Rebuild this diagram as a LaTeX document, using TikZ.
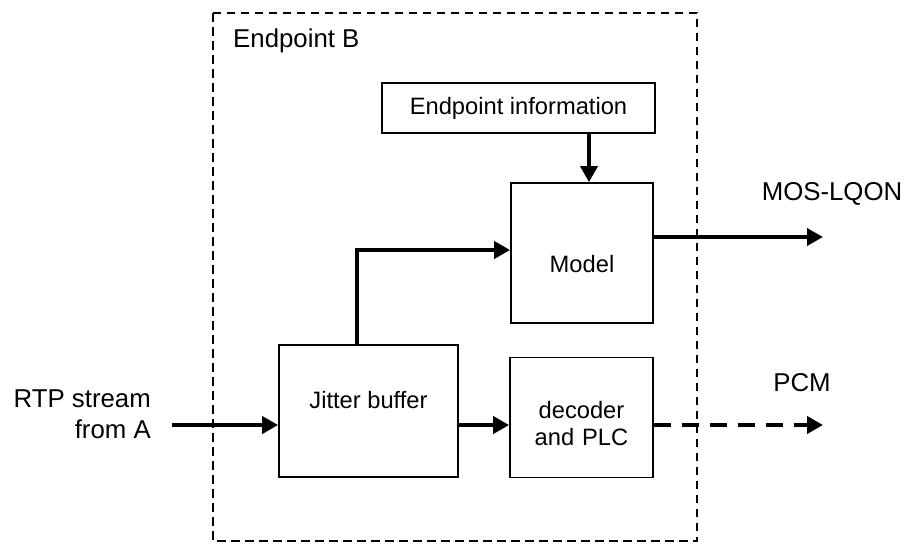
\documentclass[tikz,border=0pt]{standalone}
\usepackage{fontspec}
\setmainfont{Liberation Sans}
\usetikzlibrary{arrows.meta}
\begin{document}
\begin{tikzpicture}[x=1pt,y=-1pt,
  box/.style={draw, line width=1.8pt, rectangle, inner sep=0pt},
  intext/.style={font=\fontsize{23.7}{27}\selectfont, inner sep=0pt, align=center},
  outtext/.style={font=\fontsize{25.8}{31}\selectfont, inner sep=0pt},
  thickarrow/.style={line width=4.5pt, -{Triangle[length=16pt,width=17pt]}},
  medarrow/.style={line width=3.6pt, -{Triangle[length=16pt,width=17pt]}},
  outer/.style={draw, line width=2.6pt, dash pattern=on 8.5pt off 5.5pt}
]
\useasboundingbox (0,0) rectangle (908,544);
% outer dashed endpoint box
\draw[outer] (213,13) rectangle (697,541);
\node[outtext, anchor=west] (epb) at (233,41) {Endpoint B};
% boxes
\node[box, minimum width=273pt, minimum height=50pt] (info) at (518.5,108) {};
\node[intext] (infot) at (518.5,108) {Endpoint information};
\node[box, minimum width=142pt, minimum height=140pt] (model) at (582,253) {};
\node[intext] (modelt) at (582,264) {Model};
\node[box, minimum width=179pt, minimum height=132pt] (jb) at (368.5,411) {};
\node[intext] (jbt) at (368.5,400) {Jitter buffer};
\node[box, minimum width=143pt, minimum height=120pt] (dec) at (581.5,417.5) {};
\node[intext, text width=140pt] (dect) at (581.5,424) {decoder\\and PLC};
% outside labels
\node[outtext, align=right, anchor=east] (rtpt) at (151,414) {RTP stream\\from A};
\node[outtext] (mos) at (832,194) {MOS-LQON};
\node[outtext] (pcm) at (802,383) {PCM};
% helper coordinates
\coordinate (rtp) at (172,425);
\coordinate (ix) at (589,0);
\coordinate (jx) at (357,0);
\coordinate (min) at (0,250);
\coordinate (mosend) at (823,237);
\coordinate (pcmend) at (823,425);
% connectors
\draw[thickarrow] (rtp) -- (rtp -| jb.west);
\draw[thickarrow] (jb.north -| jx) |- (min -| model.west);
\draw[medarrow] (info.south -| ix) -- (model.north -| ix);
\draw[medarrow] (mosend -| model.east) -- (mosend);
\draw[thickarrow] (rtp -| jb.east) -- (rtp -| dec.west);
\draw[thickarrow, dash pattern=on 17pt off 11pt] (pcmend -| dec.east) -- (pcmend);
\end{tikzpicture}
\end{document}
